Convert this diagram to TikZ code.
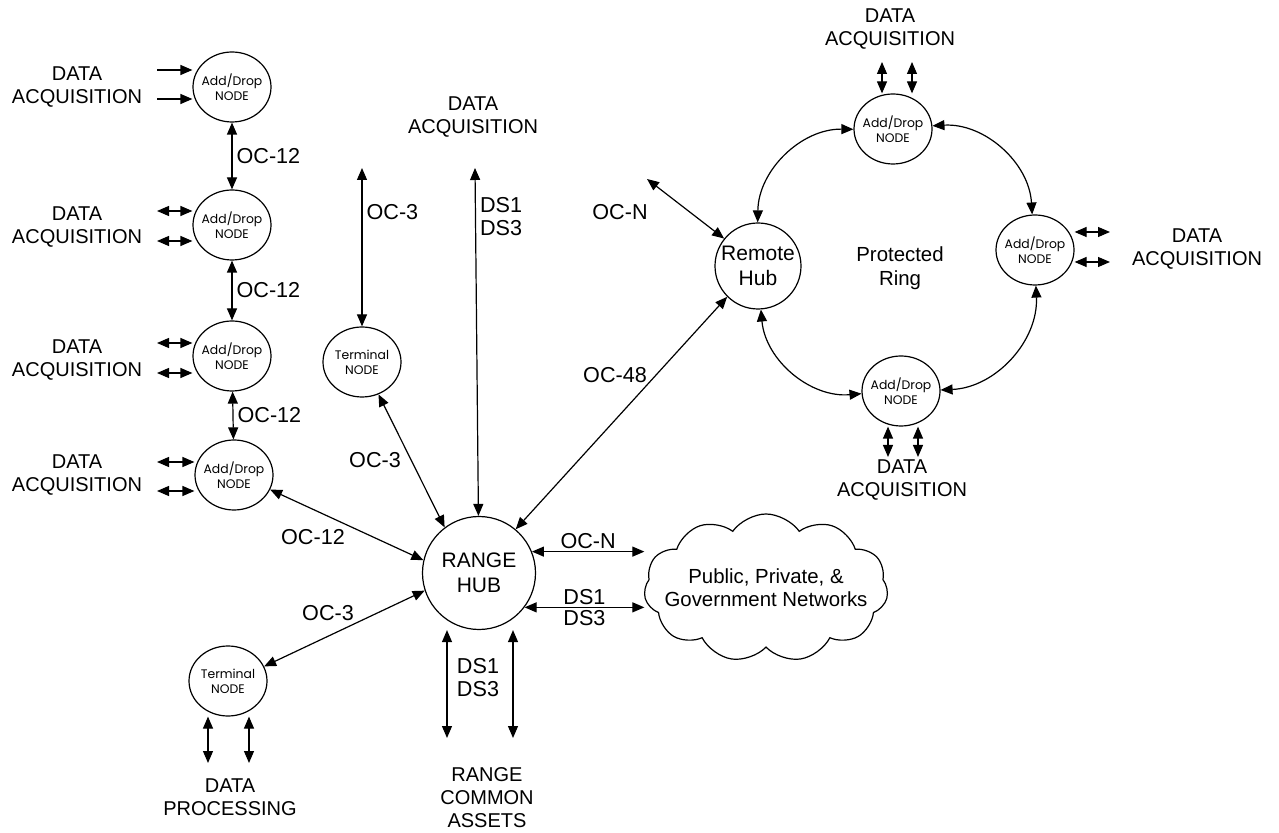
\documentclass[tikz,border=0pt]{standalone}
\usepackage{fontspec}
\setmainfont{Liberation Sans}
\newfontfamily\nodefont{Poppins}
\usetikzlibrary{arrows.meta, positioning, shapes.geometric, shapes.symbols}

\begin{document}
\begin{tikzpicture}[x=0.5pt, y=-0.5pt, line width=0.6pt,
      adnode/.style={draw, ellipse, minimum width=39pt, minimum height=35pt, inner xsep=-4pt, inner ysep=0pt, align=center, font=\nodefont\fontsize{6.2}{7.4}\selectfont},
      hubnode/.style={draw, circle, inner sep=0pt, align=center, font=\fontsize{10.5}{12.5}\selectfont},
      lab/.style={align=center, font=\fontsize{10}{11.5}\selectfont},
      oclab/.style={align=center, font=\fontsize{10.8}{11.5}\selectfont},
      arr/.style={{Triangle[length=6pt,width=5pt]}-{Triangle[length=6pt,width=5pt]}},
      inarr/.style={-{Triangle[length=6pt,width=5pt]}}]
    \useasboundingbox (0,0) rectangle (1279,833);

    % add/drop chain on the left
    \node[adnode] (ad1) at (232,87) {Add/Drop\\NODE};
    \node[adnode] (ad2) at (232,225) {Add/Drop\\NODE};
    \node[adnode] (ad3) at (232,356) {Add/Drop\\NODE};
    \node[adnode] (ad4) at (234,475) {Add/Drop\\NODE};
    \draw[arr] (ad1) -- (ad2) node[midway, right, oclab, inner sep=2pt] (oc12a) {OC-12};
    \draw[arr] (ad2) -- (ad3) node[midway, right, oclab, inner sep=2pt] (oc12b) {OC-12};
    \draw[arr] (ad3) -- (ad4) node[midway, right, oclab, inner sep=2pt] (oc12c) {OC-12};

    \node[lab] (acq1) at (77,87) {DATA\\ACQUISITION};
    \node[lab] (acq2) at (77,227) {DATA\\ACQUISITION};
    \node[lab] (acq3) at (77,360) {DATA\\ACQUISITION};
    \node[lab] (acq4) at (77,475) {DATA\\ACQUISITION};
    \coordinate (in1a) at (157,70);  \coordinate (in1b) at (157,99);
    \coordinate (in2a) at (157,211); \coordinate (in2b) at (157,241);
    \coordinate (in3a) at (157,343); \coordinate (in3b) at (157,373);
    \coordinate (in4a) at (157,462); \coordinate (in4b) at (157,491);
    \draw[inarr] (in1a) -- (in1a -| ad1.west);
    \draw[inarr] (in1b) -- (in1b -| ad1.west);
    \draw[arr] (in2a) -- (in2a -| ad2.west);
    \draw[arr] (in2b) -- (in2b -| ad2.west);
    \draw[arr] (in3a) -- (in3a -| ad3.west);
    \draw[arr] (in3b) -- (in3b -| ad3.west);
    \draw[arr] (in4a) -- (in4a -| ad4.west);
    \draw[arr] (in4b) -- (in4b -| ad4.west);

    % range hub and its spokes
    \node[hubnode, minimum size=56.5pt] (hub) at (479,573) {RANGE\\HUB};
    \node[adnode] (term1) at (362,362) {Terminal\\NODE};
    \node[adnode] (term2) at (228,681) {Terminal\\NODE};
    \coordinate (t1up) at (362,168);
    \draw[arr] (t1up) -- (term1) node[pos=0.28, right, oclab, inner sep=2pt] (oc3a) {OC-3};
    \node[lab] (acq0) at (473,117) {DATA\\ACQUISITION};
    \coordinate (dsup) at (475,168);
    \draw[arr] (dsup) -- (hub) node[pos=0.14, right, oclab, align=left, inner sep=2pt] (ds0) {DS1\\DS3};
    \draw[arr] (ad4.-22) -- (hub.167);
    \node[oclab] (oc12d) at (313,537) {OC-12};
    \draw[arr] (term1.-63) -- (hub.127);
    \node[oclab] (oc3b) at (375,460) {OC-3};
    \draw[arr] (term2.22) -- (hub.198);
    \node[oclab] (oc3c) at (328,613) {OC-3};

    \coordinate (pr1) at (208,763); \coordinate (pr2) at (249,763);
    \draw[arr] (pr1 |- term2.south) -- (pr1);
    \draw[arr] (pr2 |- term2.south) -- (pr2);
    \node[lab] (proc) at (230,797) {DATA\\PROCESSING};

    \coordinate (as1) at (447,738); \coordinate (as2) at (513,738);
    \draw[arr] (as1 |- hub.south) -- (as1);
    \draw[arr] (as2 |- hub.south) -- (as2);
    \node[oclab] (ds2) at (478,678) {DS1\\DS3};
    \node[lab] (assets) at (487,798) {RANGE\\COMMON\\ASSETS};

    % outside networks
    \node[draw, cloud, cloud puffs=11, cloud puff arc=110, cloud ignores aspect, minimum width=122pt, minimum height=74pt,
      inner xsep=-12pt, inner ysep=0pt, align=center, font=\fontsize{10.2}{11.5}\selectfont] (net) at (766,588) {Public, Private, \&\\Government Networks};
    \draw[arr] (hub.22) -- (hub.22 -| net.west) node[midway, above, oclab, inner sep=1pt] (ocn1) {OC-N};
    \draw[arr] (hub.-37) -- (hub.-37 -| net.west) node[midway, above, oclab, inner sep=1pt] (ds1c) {DS1} node[midway, below, oclab, inner sep=1pt] (ds3c) {DS3};

    % remote hub and protected ring
    \node[hubnode, minimum size=43pt, font=\fontsize{10.5}{12.5}\selectfont] (rhub) at (758,266) {Remote\\Hub};
    \draw[arr] (hub.50) -- (rhub.225);
    \node[oclab] (oc48) at (615,375) {OC-48};
    \coordinate (ocfree) at (647,179);
    \draw[arr] (ocfree) -- (rhub.141);
    \node[oclab] (ocn2) at (620,212) {OC-N};

    \node[adnode] (rtop) at (893,129) {Add/Drop\\NODE};
    \node[adnode] (rright) at (1035,250) {Add/Drop\\NODE};
    \node[adnode] (rbot) at (901,391) {Add/Drop\\NODE};
    \draw[arr] (rhub) to[bend left=45] (rtop);
    \draw[arr] (rtop) to[bend left=45] (rright);
    \draw[arr] (rright) to[bend left=45] (rbot);
    \draw[arr] (rbot) to[bend left=45] (rhub);
    \node[lab, font=\fontsize{10.2}{12}\selectfont] (ring) at (900,268) {Protected\\Ring};

    \node[lab] (acq5) at (890,29) {DATA\\ACQUISITION};
    \coordinate (up1) at (882,62); \coordinate (up2) at (912,62);
    \draw[arr] (up1) -- (up1 |- rtop.north);
    \draw[arr] (up2) -- (up2 |- rtop.north);
    \node[lab] (acq6) at (1197,249) {DATA\\ACQUISITION};
    \coordinate (rt1) at (1110,232); \coordinate (rt2) at (1110,262);
    \draw[arr] (rt1) -- (rt1 -| rright.east);
    \draw[arr] (rt2) -- (rt2 -| rright.east);
    \node[lab] (acq7) at (902,480) {DATA\\ACQUISITION};
    \coordinate (dn1) at (888,457); \coordinate (dn2) at (918,457);
    \draw[arr] (dn1 |- rbot.south) -- (dn1);
    \draw[arr] (dn2 |- rbot.south) -- (dn2);
  \end{tikzpicture}
\end{document}
